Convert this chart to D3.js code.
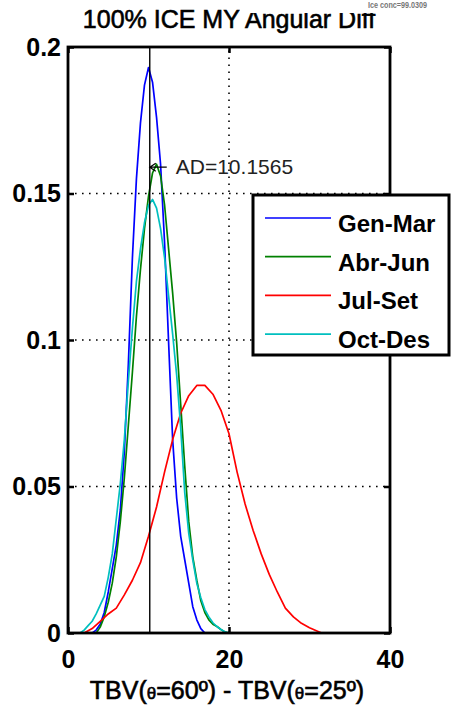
<!DOCTYPE html>
<html>
<head>
<meta charset="utf-8">
<script src="https://cdn.jsdelivr.net/npm/d3@7"></script>
<style>
  html, body { margin: 0; padding: 0; background: #fff; }
  svg { display: block; font-family: "Liberation Sans", Arial, sans-serif; }
</style>
</head>
<body>
<div id="chart"></div>
<script>
// Angular difference histograms, one curve per season

const titleText = '100% ICE MY Angular Diff';
const iceConcText = 'Ice conc=99.0309';
const adValue = 10.1565;

const xTicks = [0, 20, 40];
const yTicks = [0, 0.05, 0.1, 0.15, 0.2];
const xGridTicks = [20];
const yGridTicks = [0.05, 0.1, 0.15];

// shared x positions for the three narrow curves
const binsNarrow = [1.5, 2, 2.5, 3, 3.5, 4, 4.5, 5, 5.5, 6, 6.5, 7, 7.5, 8, 8.5, 9, 9.5, 10, 10.5,
    11, 11.5, 12, 12.5, 13, 13.5, 14, 14.5, 15, 15.5, 16, 16.5, 17, 17.5, 18, 18.5, 19, 19.5, 20];

const genMar = [0, 0, 0, 0, 0.001, 0.003, 0.007, 0.014, 0.022, 0.030, 0.042, 0.062, 0.092, 0.128, 0.155, 0.174, 0.187, 0.193, 0.188,
    0.176, 0.160, 0.133, 0.099, 0.066, 0.046, 0.033, 0.025, 0.017, 0.009, 0.0045, 0.0015, 0, 0, 0, 0, 0, 0, 0];

const abrJun = [0, 0, 0, 0, 0, 0.002, 0.0055, 0.0105, 0.017, 0.026, 0.038, 0.053, 0.071, 0.089, 0.108, 0.124, 0.138, 0.149, 0.157,
    0.160, 0.156, 0.146, 0.131, 0.116, 0.099, 0.078, 0.057, 0.038, 0.026, 0.018, 0.011, 0.007, 0.0045, 0.003, 0.0022, 0.0012, 0.0003, 0];

const octDes = [0, 0.001, 0.0025, 0.004, 0.0065, 0.0095, 0.0125, 0.019, 0.027, 0.039, 0.051, 0.066, 0.086, 0.104, 0.120, 0.131, 0.140, 0.146, 0.148,
    0.145, 0.138, 0.128, 0.115, 0.102, 0.088, 0.070, 0.048, 0.034, 0.025, 0.017, 0.012, 0.008, 0.0055, 0.0035, 0.0022, 0.0012, 0.0004, 0];

const binsWide = [2, 3, 4, 5, 6, 7, 8, 9, 10, 11, 12, 13, 14, 15, 16, 17, 18, 19, 20, 21, 22, 23, 24, 25, 26, 27, 28, 29, 30, 31, 31.5];

const julSet = [0, 0.0015, 0.004, 0.0065, 0.0085, 0.013, 0.018, 0.024, 0.033, 0.043, 0.055, 0.066, 0.075, 0.081, 0.0845, 0.0845,
    0.0815, 0.076, 0.068, 0.055, 0.044, 0.035, 0.027, 0.020, 0.014, 0.0085, 0.0055, 0.0033, 0.0018, 0.0006, 0];

const seriesNames = ['Gen-Mar', 'Abr-Jun', 'Jul-Set', 'Oct-Des'];
const seriesColors = ['#0000ff', '#008000', '#ff0000', '#00bfbf'];

const series = [
    { name: seriesNames[0], color: seriesColors[0], xs: binsNarrow, ys: genMar },
    { name: seriesNames[1], color: seriesColors[1], xs: binsNarrow, ys: abrJun },
    { name: seriesNames[2], color: seriesColors[2], xs: binsWide, ys: julSet },
    { name: seriesNames[3], color: seriesColors[3], xs: binsNarrow, ys: octDes },
];

const width = 452;
const height = 714;
const margin = { left: 68, right: 62, top: 47, bottom: 81 };

const svg = d3.select('#chart')
    .append('svg')
    .attr('width', width)
    .attr('height', height);

const x = d3.scaleLinear().domain([0, 40]).range([margin.left, width - margin.right]);
const y = d3.scaleLinear().domain([0, 0.2]).range([height - margin.bottom, margin.top]);

// Grid (dotted)
const grid = svg.append('g')
    .attr('stroke', '#000')
    .attr('stroke-width', 1.6)
    .attr('stroke-dasharray', '1.6,5.4');

grid.selectAll('.gx')
    .data(xGridTicks)
    .join('line')
    .attr('x1', d => x(d)).attr('x2', d => x(d))
    .attr('y1', y(0)).attr('y2', y(0.2));

grid.selectAll('.gy')
    .data(yGridTicks)
    .join('line')
    .attr('x1', x(0)).attr('x2', x(40))
    .attr('y1', d => y(d)).attr('y2', d => y(d));

// Curves
const line = d3.line()
    .x(d => x(d[0]))
    .y(d => y(d[1]));

svg.append('g')
    .selectAll('path')
    .data(series)
    .join('path')
    .attr('fill', 'none')
    .attr('stroke', d => d.color)
    .attr('stroke-width', 1.7)
    .attr('stroke-linejoin', 'round')
    .attr('d', d => line(d.xs.map((v, i) => [v, d.ys[i]])));

// AD marker
svg.append('line')
    .attr('x1', x(adValue)).attr('x2', x(adValue))
    .attr('y1', y(0)).attr('y2', y(0.2))
    .attr('stroke', '#000')
    .attr('stroke-width', 1.4);

const adY = y(0.159);
const ax = x(adValue);
svg.append('path')
    .attr('d', `M${ax},${adY}H${ax + 17}M${ax + 6},${adY - 4}L${ax},${adY}L${ax + 6},${adY + 4}`)
    .attr('fill', 'none')
    .attr('stroke', '#000')
    .attr('stroke-width', 1.2);

svg.append('text')
    .attr('x', ax + 26)
    .attr('y', adY + 7)
    .attr('font-size', 21)
    .attr('fill', '#222')
    .text('AD=' + adValue);

// Axes box and inward ticks
const fmt = d => d === 0 ? '0' : String(d);

const axLeft = svg.append('g')
    .attr('transform', `translate(${x(0)},0)`)
    .call(d3.axisLeft(y).tickValues(yTicks).tickFormat(fmt).tickSize(-6).tickPadding(7));

const axBottom = svg.append('g')
    .attr('transform', `translate(0,${y(0)})`)
    .call(d3.axisBottom(x).tickValues(xTicks).tickFormat(fmt).tickSize(-6).tickPadding(17));

const axTop = svg.append('g')
    .attr('transform', `translate(0,${y(0.2)})`)
    .call(d3.axisTop(x).tickValues(xTicks).tickFormat('').tickSize(-6));

const axRight = svg.append('g')
    .attr('transform', `translate(${x(40)},0)`)
    .call(d3.axisRight(y).tickValues(yTicks).tickFormat('').tickSize(-6));

[axLeft, axBottom, axTop, axRight].forEach(g => {
    g.select('.domain').remove();
    g.selectAll('.tick line').attr('stroke', '#000').attr('stroke-width', 2.5);
    g.selectAll('.tick text')
        .attr('fill', '#000')
        .attr('font-size', 25)
        .attr('font-weight', 'bold')
        .attr('font-family', '"Liberation Sans", Arial, sans-serif');
});

svg.append('rect')
    .attr('x', x(0)).attr('y', y(0.2))
    .attr('width', x(40) - x(0)).attr('height', y(0) - y(0.2))
    .attr('fill', 'none')
    .attr('stroke', '#000')
    .attr('stroke-width', 2.8);

// Legend
const legend = svg.append('g').attr('transform', 'translate(253,195)');
legend.append('rect')
    .attr('width', 196).attr('height', 160)
    .attr('fill', '#fff')
    .attr('stroke', '#000')
    .attr('stroke-width', 3);

const item = legend.selectAll('.item')
    .data(series)
    .join('g')
    .attr('transform', (d, i) => `translate(0,${23 + i * 38.7})`);

item.append('line')
    .attr('x1', 12).attr('x2', 78)
    .attr('stroke', d => d.color)
    .attr('stroke-width', 1.7);

item.append('text')
    .attr('x', 85)
    .attr('y', 14)
    .attr('font-size', 24)
    .attr('font-weight', 'bold')
    .text(d => d.name);

// Title and axis label
svg.append('text')
    .attr('x', x(20))
    .attr('y', 28)
    .attr('text-anchor', 'middle')
    .attr('font-size', 25)
    .attr('stroke', '#000')
    .attr('stroke-width', 0.6)
    .text(titleText);

// white patch with the faint annotation at the top right (clips the title)
svg.append('rect')
    .attr('x', 240).attr('y', 0)
    .attr('width', 212).attr('height', 13)
    .attr('fill', '#fff');

svg.append('text')
    .attr('x', 368)
    .attr('y', 8)
    .attr('font-size', 9)
    .attr('font-weight', 'bold')
    .attr('fill', '#777')
    .attr('textLength', 59)
    .attr('lengthAdjust', 'spacingAndGlyphs')
    .text(iceConcText);

const xLabel = svg.append('text')
    .attr('x', x(20) - 2)
    .attr('y', 699)
    .attr('text-anchor', 'middle')
    .attr('font-size', 25)
    .attr('stroke', '#000')
    .attr('stroke-width', 0.6);

xLabel.append('tspan').text('TBV(');
xLabel.append('tspan').attr('font-size', 17).text('\u03b8');
xLabel.append('tspan').text('=60\u00ba) - TBV(');
xLabel.append('tspan').attr('font-size', 17).text('\u03b8');
xLabel.append('tspan').text('=25\u00ba)');
</script>
</body>
</html>
